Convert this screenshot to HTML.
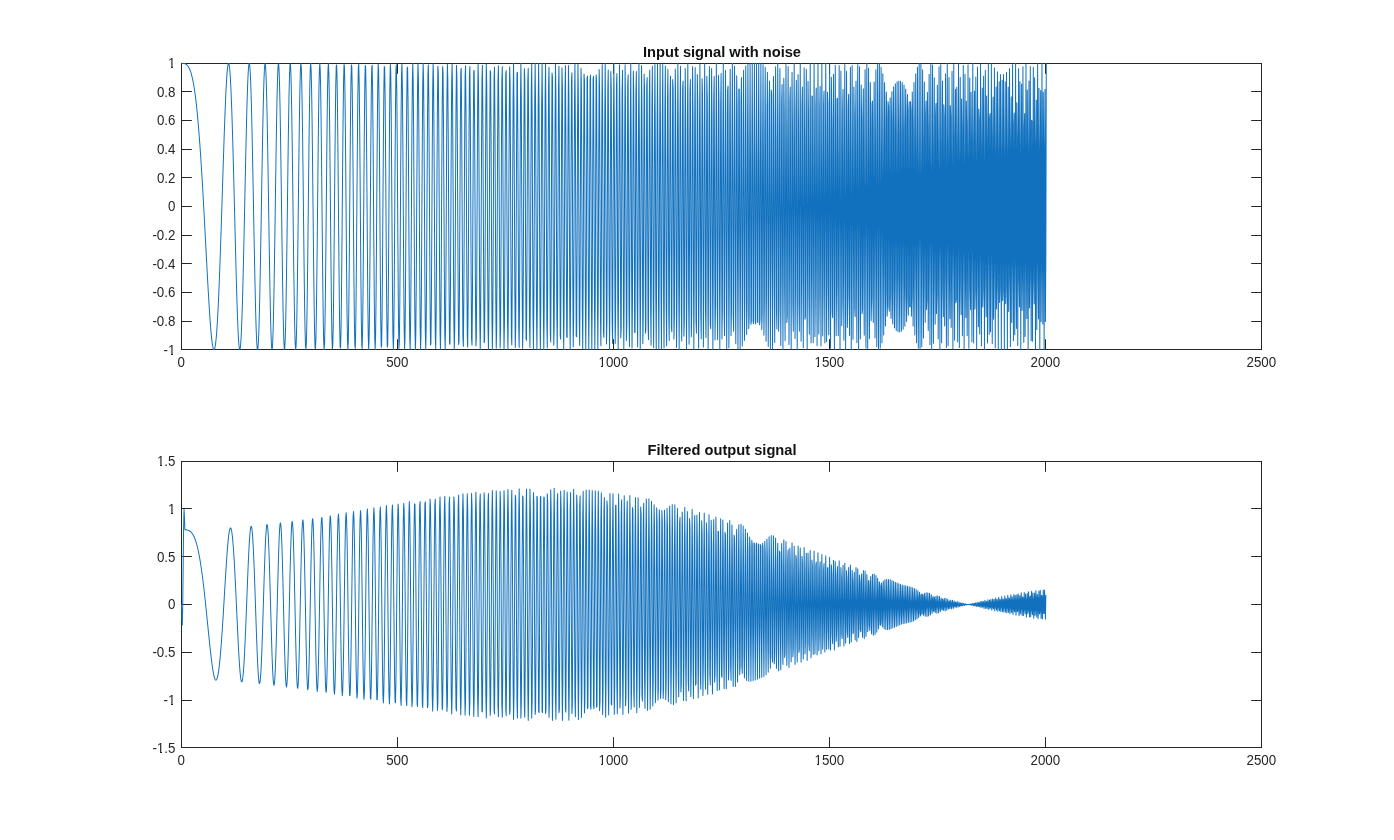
<!DOCTYPE html>
<html><head><meta charset="utf-8"><title>Figure</title>
<style>html,body{margin:0;padding:0;background:#fff;width:1394px;height:840px;overflow:hidden;font-family:"Liberation Sans",sans-serif}</style>
</head><body>
<svg width="1394" height="840" viewBox="0 0 1394 840" style="position:absolute;left:0;top:0;will-change:transform">
<rect x="0" y="0" width="1394" height="840" fill="#fff"/>
<g fill="#262626" shape-rendering="crispEdges">
<rect x="181" y="63" width="1081" height="1"/>
<rect x="181" y="349" width="1081" height="1"/>
<rect x="181" y="63" width="1" height="287"/>
<rect x="1261" y="63" width="1" height="287"/>
<rect x="397" y="340" width="1" height="10"/>
<rect x="397" y="63" width="1" height="10"/>
<rect x="613" y="340" width="1" height="10"/>
<rect x="613" y="63" width="1" height="10"/>
<rect x="829" y="340" width="1" height="10"/>
<rect x="829" y="63" width="1" height="10"/>
<rect x="1045" y="340" width="1" height="10"/>
<rect x="1045" y="63" width="1" height="10"/>
<rect x="181" y="321" width="10" height="1"/>
<rect x="1252" y="321" width="10" height="1"/>
<rect x="181" y="292" width="10" height="1"/>
<rect x="1252" y="292" width="10" height="1"/>
<rect x="181" y="263" width="10" height="1"/>
<rect x="1252" y="263" width="10" height="1"/>
<rect x="181" y="235" width="10" height="1"/>
<rect x="1252" y="235" width="10" height="1"/>
<rect x="181" y="206" width="10" height="1"/>
<rect x="1252" y="206" width="10" height="1"/>
<rect x="181" y="177" width="10" height="1"/>
<rect x="1252" y="177" width="10" height="1"/>
<rect x="181" y="149" width="10" height="1"/>
<rect x="1252" y="149" width="10" height="1"/>
<rect x="181" y="120" width="10" height="1"/>
<rect x="1252" y="120" width="10" height="1"/>
<rect x="181" y="91" width="10" height="1"/>
<rect x="1252" y="91" width="10" height="1"/>
</g>
<g fill="#262626" fill-opacity="0.8" shape-rendering="crispEdges"><rect x="397" y="339" width="1" height="1"/><rect x="397" y="73" width="1" height="1"/><rect x="613" y="339" width="1" height="1"/><rect x="613" y="73" width="1" height="1"/><rect x="829" y="339" width="1" height="1"/><rect x="829" y="73" width="1" height="1"/><rect x="1045" y="339" width="1" height="1"/><rect x="1045" y="73" width="1" height="1"/><rect x="191" y="321" width="1" height="1"/><rect x="1251" y="321" width="1" height="1"/><rect x="191" y="292" width="1" height="1"/><rect x="1251" y="292" width="1" height="1"/><rect x="191" y="263" width="1" height="1"/><rect x="1251" y="263" width="1" height="1"/><rect x="191" y="235" width="1" height="1"/><rect x="1251" y="235" width="1" height="1"/><rect x="191" y="206" width="1" height="1"/><rect x="1251" y="206" width="1" height="1"/><rect x="191" y="177" width="1" height="1"/><rect x="1251" y="177" width="1" height="1"/><rect x="191" y="149" width="1" height="1"/><rect x="1251" y="149" width="1" height="1"/><rect x="191" y="120" width="1" height="1"/><rect x="1251" y="120" width="1" height="1"/><rect x="191" y="91" width="1" height="1"/><rect x="1251" y="91" width="1" height="1"/></g>
<clipPath id="c1"><rect x="181" y="62.8" width="1081" height="287.4"/></clipPath>
<path d="M181.43,63.20 L181.86,63.20 L182.30,63.21 L182.73,63.24 L183.16,63.28 L183.59,63.33 L184.03,63.41 L184.46,63.52 L184.89,63.66 L185.32,63.84 L185.76,64.07 L186.19,64.34 L186.62,64.67 L187.05,65.06 L187.49,65.52 L187.92,66.06 L188.35,66.69 L188.78,67.41 L189.22,68.23 L189.65,69.16 L190.08,70.21 L190.51,71.39 L190.95,72.71 L191.38,74.17 L191.81,75.78 L192.24,77.57 L192.68,79.52 L193.11,81.66 L193.54,83.99 L193.97,86.52 L194.41,89.26 L194.84,92.22 L195.27,95.40 L195.70,98.82 L196.14,102.47 L196.57,106.37 L197.00,110.52 L197.43,114.93 L197.86,119.60 L198.30,124.53 L198.73,129.72 L199.16,135.17 L199.59,140.88 L200.03,146.85 L200.46,153.08 L200.89,159.55 L201.32,166.26 L201.76,173.20 L202.19,180.36 L202.62,187.71 L203.05,195.26 L203.49,202.97 L203.92,210.82 L204.35,218.80 L204.78,226.87 L205.22,235.01 L205.65,243.18 L206.08,251.36 L206.51,259.50 L206.95,267.58 L207.38,275.54 L207.81,283.34 L208.24,290.95 L208.68,298.31 L209.11,305.38 L209.54,312.11 L209.97,318.45 L210.41,324.35 L210.84,329.75 L211.27,334.62 L211.70,338.89 L212.13,342.53 L212.57,345.48 L213.00,347.69 L213.43,349.14 L213.86,349.77 L214.30,349.56 L214.73,348.47 L215.16,346.49 L215.59,343.58 L216.03,339.74 L216.46,334.96 L216.89,329.24 L217.32,322.60 L217.76,315.06 L218.19,306.63 L218.62,297.36 L219.05,287.29 L219.49,276.48 L219.92,265.00 L220.35,252.92 L220.78,240.32 L221.22,227.31 L221.65,213.99 L222.08,200.47 L222.51,186.87 L222.95,173.31 L223.38,159.93 L223.81,146.87 L224.24,134.27 L224.68,122.27 L225.11,111.01 L225.54,100.63 L225.97,91.27 L226.41,83.06 L226.84,76.13 L227.27,70.58 L227.70,66.52 L228.13,64.04 L228.57,63.20 L229.00,64.07 L229.43,66.67 L229.86,71.01 L230.30,77.10 L230.73,84.88 L231.16,94.31 L231.59,105.30 L232.03,117.73 L232.46,131.47 L232.89,146.36 L233.32,162.22 L233.76,178.83 L234.19,195.98 L234.62,213.41 L235.05,230.87 L235.49,248.10 L235.92,264.81 L236.35,280.74 L236.78,295.60 L237.22,309.14 L237.65,321.09 L238.08,331.23 L238.51,339.34 L238.95,345.22 L239.38,348.75 L239.81,349.79 L240.24,348.28 L240.68,344.19 L241.11,337.54 L241.54,328.41 L241.97,316.91 L242.41,303.23 L242.84,287.57 L243.27,270.21 L243.70,251.47 L244.13,231.69 L244.57,211.27 L245.00,190.62 L245.43,170.17 L245.86,150.35 L246.30,131.63 L246.73,114.41 L247.16,99.13 L247.59,86.15 L248.03,75.82 L248.46,68.43 L248.89,64.20 L249.32,63.29 L249.76,65.79 L250.19,71.69 L250.62,80.93 L251.05,93.31 L251.49,108.60 L251.92,126.46 L252.35,146.47 L252.78,168.14 L253.22,190.95 L253.65,214.31 L254.08,237.58 L254.51,260.15 L254.95,281.37 L255.38,300.64 L255.81,317.37 L256.24,331.05 L256.68,341.24 L257.11,347.57 L257.54,349.80 L257.97,347.79 L258.40,341.54 L258.84,331.16 L259.27,316.91 L259.70,299.17 L260.13,278.44 L260.57,255.32 L261.00,230.52 L261.43,204.81 L261.86,179.03 L262.30,154.02 L262.73,130.63 L263.16,109.68 L263.59,91.91 L264.03,77.98 L264.46,68.45 L264.89,63.70 L265.32,63.99 L265.76,69.37 L266.19,79.73 L266.62,94.76 L267.05,113.98 L267.49,136.74 L267.92,162.22 L268.35,189.50 L268.78,217.56 L269.22,245.33 L269.65,271.72 L270.08,295.66 L270.51,316.16 L270.95,332.37 L271.38,343.54 L271.81,349.17 L272.24,348.93 L272.68,342.77 L273.11,330.84 L273.54,313.59 L273.97,291.67 L274.40,265.98 L274.84,237.58 L275.27,207.69 L275.70,177.62 L276.13,148.70 L276.57,122.27 L277.00,99.56 L277.43,81.67 L277.86,69.49 L278.30,63.66 L278.73,64.55 L279.16,72.20 L279.59,86.32 L280.03,106.32 L280.46,131.30 L280.89,160.08 L281.32,191.29 L281.76,223.39 L282.19,254.77 L282.62,283.82 L283.05,309.02 L283.49,329.01 L283.92,342.70 L284.35,349.27 L284.78,348.30 L285.22,339.74 L285.65,323.96 L286.08,301.74 L286.51,274.21 L286.95,242.83 L287.38,209.31 L287.81,175.50 L288.24,143.32 L288.68,114.60 L289.11,91.06 L289.54,74.11 L289.97,64.82 L290.40,63.82 L290.84,71.27 L291.27,86.83 L291.70,109.64 L292.13,138.41 L292.57,171.45 L293.00,206.77 L293.43,242.20 L293.86,275.54 L294.30,304.64 L294.73,327.64 L295.16,342.97 L295.59,349.58 L296.03,346.94 L296.46,335.11 L296.89,314.78 L297.32,287.20 L297.76,254.13 L298.19,217.74 L298.62,180.47 L299.05,144.83 L299.49,113.31 L299.92,88.13 L300.35,71.11 L300.78,63.53 L301.22,66.03 L301.65,78.53 L302.08,100.25 L302.51,129.72 L302.95,164.86 L303.38,203.17 L303.81,241.85 L304.24,278.05 L304.67,309.02 L305.11,332.38 L305.54,346.28 L305.97,349.58 L306.40,341.91 L306.84,323.74 L307.27,296.40 L307.70,261.92 L308.13,222.96 L308.57,182.57 L309.00,143.96 L309.43,110.26 L309.86,84.23 L310.30,68.09 L310.73,63.25 L311.16,70.21 L311.59,88.53 L312.03,116.76 L312.46,152.64 L312.89,193.19 L313.32,235.01 L313.76,274.51 L314.19,308.26 L314.62,333.27 L315.05,347.27 L315.49,348.93 L315.92,337.99 L316.35,315.29 L316.78,282.77 L317.22,243.27 L317.65,200.31 L318.08,157.79 L318.51,119.62 L318.95,89.36 L319.38,69.92 L319.81,63.20 L320.24,69.96 L320.67,89.67 L321.11,120.59 L321.54,159.83 L321.97,203.69 L322.40,247.95 L322.84,288.29 L323.27,320.72 L323.70,341.95 L324.13,349.78 L324.57,343.31 L325.00,323.06 L325.43,290.97 L325.86,250.18 L326.30,204.81 L326.73,159.49 L327.16,118.90 L327.59,87.33 L328.03,68.14 L328.46,63.48 L328.89,73.96 L329.32,98.59 L329.76,134.86 L330.19,178.94 L330.62,226.13 L331.05,271.32 L331.49,309.52 L331.92,336.47 L332.35,349.08 L332.78,345.84 L333.22,326.97 L333.65,294.47 L334.08,251.92 L334.51,204.07 L334.95,156.37 L335.38,114.33 L335.81,82.85 L336.24,65.69 L336.67,64.97 L337.11,80.93 L337.54,111.78 L337.97,154.00 L338.40,202.61 L338.84,251.81 L339.27,295.66 L339.70,328.78 L340.13,347.03 L340.57,348.06 L341.00,331.61 L341.43,299.57 L341.86,255.82 L342.30,205.78 L342.73,155.70 L343.16,111.94 L343.59,80.12 L344.03,64.42 L344.46,66.99 L344.89,87.63 L345.32,123.79 L345.76,170.86 L346.19,222.74 L346.62,272.60 L347.05,313.80 L347.49,340.77 L347.92,349.79 L348.35,339.50 L348.78,311.16 L349.22,268.49 L349.65,217.23 L350.08,164.36 L350.51,117.20 L350.94,82.34 L351.38,64.74 L351.81,66.99 L352.24,88.94 L352.67,127.60 L353.11,177.59 L353.54,231.85 L353.97,282.58 L354.40,322.43 L354.84,345.54 L355.27,348.40 L355.70,330.45 L356.13,294.19 L356.57,244.86 L357.00,189.70 L357.43,136.93 L357.86,94.50 L358.30,68.87 L358.73,64.07 L359.16,80.96 L359.59,117.11 L360.03,167.10 L360.46,223.30 L360.89,277.01 L361.32,319.84 L361.76,345.00 L362.19,348.40 L362.62,329.35 L363.05,290.73 L363.49,238.57 L363.92,181.15 L364.35,127.69 L364.78,86.88 L365.22,65.43 L365.65,66.99 L366.08,91.46 L366.51,134.95 L366.94,190.39 L367.38,248.64 L367.81,299.96 L368.24,335.70 L368.67,349.72 L369.11,339.50 L369.54,306.63 L369.97,256.56 L370.40,197.79 L370.84,140.40 L371.27,94.34 L371.70,67.70 L372.13,65.27 L372.57,87.63 L373.00,130.99 L373.43,187.83 L373.86,248.10 L374.30,301.06 L374.73,337.17 L375.16,349.80 L375.59,336.51 L376.03,299.57 L376.46,245.55 L376.89,184.26 L377.32,126.94 L377.76,84.22 L378.19,64.13 L378.62,70.55 L379.05,102.46 L379.49,154.00 L379.92,215.57 L380.35,275.54 L380.78,322.47 L381.22,347.31 L381.65,345.15 L382.08,316.22 L382.51,265.98 L382.94,204.07 L383.38,142.51 L383.81,93.38 L384.24,66.44 L384.67,67.16 L385.11,95.56 L385.54,146.14 L385.97,208.91 L386.40,271.32 L386.84,320.76 L387.27,347.13 L387.70,344.92 L388.13,314.41 L388.57,261.69 L389.00,197.50 L389.43,135.05 L389.86,87.33 L390.30,64.37 L390.73,71.13 L391.16,106.37 L391.59,162.82 L392.03,228.63 L392.46,289.85 L392.89,333.39 L393.32,349.78 L393.76,335.36 L394.19,293.04 L394.62,231.87 L395.05,165.05 L395.49,107.18 L395.92,71.01 L396.35,64.65 L396.78,89.67 L397.22,140.70 L397.65,206.50 L398.08,272.42 L398.51,323.64 L398.94,348.52 L399.38,341.27 L399.81,303.36 L400.24,243.27 L400.67,174.65 L401.11,113.23 L401.54,73.24 L401.97,64.07 L402.40,88.02 L402.84,139.68 L403.27,207.11 L403.70,274.51 L404.13,325.96 L404.57,349.18 L405.00,338.48 L405.43,296.24 L405.86,232.40 L406.30,162.22 L406.73,102.61 L407.16,68.09 L407.59,67.20 L408.03,100.33 L408.46,159.55 L408.89,230.43 L409.32,295.52 L409.76,338.65 L410.19,348.98 L410.62,323.74 L411.05,269.08 L411.49,198.58 L411.92,129.96 L412.35,80.62 L412.78,63.21 L413.21,82.34 L413.65,133.30 L414.08,203.17 L414.51,274.01 L414.94,327.49 L415.38,349.62 L415.81,334.47 L416.24,285.79 L416.67,216.22 L417.11,143.96 L417.54,88.13 L417.97,63.63 L418.40,77.15 L418.84,125.27 L419.27,195.26 L419.70,268.39 L420.13,324.92 L420.57,349.44 L421.00,335.11 L421.43,285.64 L421.86,214.42 L422.30,140.90 L422.73,85.36 L423.16,63.27 L423.59,80.93 L424.03,133.61 L424.46,206.77 L424.89,279.97 L425.32,332.59 L425.76,349.67 L426.19,326.17 L426.62,268.59 L427.05,193.19 L427.49,121.49 L427.92,74.11 L428.35,64.84 L428.78,96.55 L429.21,160.23 L429.65,237.50 L430.08,305.82 L430.51,345.12 L430.94,343.68 L431.38,301.74 L431.81,231.51 L432.24,153.75 L432.67,91.60 L433.11,63.73 L433.54,78.69 L433.97,132.16 L434.40,208.19 L434.84,283.82 L435.27,336.04 L435.70,348.80 L436.13,318.01 L436.57,252.92 L437.00,173.42 L437.43,104.03 L437.86,66.33 L438.30,72.20 L438.73,120.01 L439.16,194.99 L439.59,273.69 L440.03,331.33 L440.46,349.57 L440.89,322.43 L441.32,258.35 L441.76,177.62 L442.19,106.02 L442.62,66.61 L443.05,72.25 L443.49,121.33 L443.92,198.11 L444.35,277.73 L444.78,334.21 L445.21,348.93 L445.65,316.87 L446.08,248.38 L446.51,165.94 L446.94,96.84 L447.38,64.13 L447.81,78.90 L448.24,136.42 L448.67,217.56 L449.11,295.09 L449.54,342.79 L449.97,344.34 L450.40,299.02 L450.84,222.07 L451.27,139.68 L451.70,80.12 L452.13,63.99 L452.57,97.05 L453.00,168.08 L453.43,252.56 L453.86,321.09 L454.30,349.66 L454.73,328.07 L455.16,263.68 L455.59,179.03 L456.03,103.98 L456.46,65.23 L456.89,76.71 L457.32,134.56 L457.76,218.26 L458.19,297.84 L458.62,344.62 L459.05,341.54 L459.48,289.50 L459.92,207.22 L460.35,124.56 L460.78,71.76 L461.21,68.32 L461.65,115.71 L462.08,196.67 L462.51,281.37 L462.94,338.40 L463.38,346.39 L463.81,302.16 L464.24,222.05 L464.67,135.99 L465.11,76.38 L465.54,65.85 L465.97,108.60 L466.40,188.61 L466.84,275.54 L467.27,336.19 L467.70,347.21 L468.13,304.15 L468.57,223.39 L469.00,135.99 L469.43,75.82 L469.86,66.40 L470.30,111.60 L470.73,193.98 L471.16,281.37 L471.59,339.43 L472.03,345.12 L472.46,295.97 L472.89,211.27 L473.32,124.56 L473.76,70.44 L474.19,70.69 L474.62,125.43 L475.05,212.87 L475.48,297.84 L475.92,345.96 L476.35,337.54 L476.78,275.79 L477.21,185.69 L477.65,103.98 L478.08,64.25 L478.51,83.01 L478.94,152.74 L479.38,244.81 L479.81,321.09 L480.24,349.79 L480.67,318.73 L481.11,240.67 L481.54,148.19 L481.97,80.12 L482.40,65.29 L482.84,110.17 L483.27,195.98 L483.70,286.36 L484.13,342.79 L484.57,341.00 L485.00,281.53 L485.43,189.72 L485.86,105.04 L486.30,64.13 L486.73,84.88 L487.16,158.53 L487.59,253.17 L488.03,327.53 L488.46,348.93 L488.89,307.78 L489.32,221.96 L489.76,129.20 L490.19,70.58 L490.62,72.25 L491.05,133.71 L491.48,227.74 L491.92,312.37 L492.35,349.57 L492.78,322.43 L493.21,242.94 L493.65,146.87 L494.08,77.74 L494.51,67.10 L494.94,120.01 L495.38,212.53 L495.81,302.39 L496.24,348.28 L496.67,328.88 L497.11,252.92 L497.54,155.36 L497.97,81.45 L498.40,65.68 L498.84,115.64 L499.27,208.19 L499.70,300.04 L500.13,347.99 L500.57,329.24 L501.00,252.43 L501.43,153.75 L501.86,80.04 L502.30,66.51 L502.73,119.87 L503.16,214.78 L503.59,305.82 L504.03,349.14 L504.46,323.65 L504.89,241.44 L505.32,142.19 L505.75,74.11 L506.19,70.52 L506.62,133.40 L507.05,232.18 L507.48,318.45 L507.92,349.67 L508.35,310.22 L508.78,219.38 L509.21,122.05 L509.65,66.64 L510.08,80.93 L510.51,158.02 L510.94,259.50 L511.38,334.46 L511.81,345.03 L512.24,285.64 L512.67,186.13 L513.11,96.85 L513.54,63.27 L513.97,102.70 L514.40,195.26 L514.84,293.67 L515.27,347.39 L515.70,328.60 L516.13,246.74 L516.57,143.96 L517.00,73.53 L517.43,72.19 L517.86,140.88 L518.30,243.94 L518.73,327.49 L519.16,347.58 L519.59,293.40 L520.03,193.31 L520.46,100.09 L520.89,63.21 L521.32,102.47 L521.75,197.21 L522.19,297.01 L522.62,348.44 L523.05,323.74 L523.48,235.93 L523.92,132.16 L524.35,68.48 L524.78,79.52 L525.21,159.55 L525.65,265.22 L526.08,338.95 L526.51,340.29 L526.94,268.27 L527.38,162.22 L527.81,80.46 L528.24,68.23 L528.67,132.53 L529.11,237.94 L529.54,325.96 L529.97,347.48 L530.40,290.24 L530.84,186.04 L531.27,93.23 L531.70,64.07 L532.13,115.21 L532.57,218.01 L533.00,314.39 L533.43,349.59 L533.86,303.36 L534.30,201.82 L534.73,102.86 L535.16,63.21 L535.59,105.86 L536.03,206.50 L536.46,307.24 L536.89,349.79 L537.32,309.30 L537.75,209.02 L538.19,107.18 L538.62,63.23 L539.05,103.08 L539.48,203.62 L539.92,305.95 L540.35,349.78 L540.78,309.05 L541.21,207.58 L541.65,105.38 L542.08,63.20 L542.51,106.37 L542.94,209.38 L543.38,310.76 L543.81,349.69 L544.24,302.56 L544.67,197.50 L545.11,97.78 L545.54,63.78 L545.97,116.32 L546.40,223.75 L546.84,320.76 L547.27,348.08 L547.70,288.77 L548.13,178.94 L548.57,85.96 L549.00,67.16 L549.43,134.39 L549.86,246.31 L550.30,333.64 L550.73,342.02 L551.16,265.98 L551.59,152.74 L552.02,73.04 L552.46,76.95 L552.89,162.28 L553.32,275.54 L553.75,345.31 L554.19,327.35 L554.62,232.75 L555.05,121.40 L555.48,64.13 L555.92,97.65 L556.35,200.81 L556.78,307.70 L557.21,349.70 L557.65,299.57 L558.08,189.37 L558.51,90.15 L558.94,66.21 L559.38,133.32 L559.81,248.10 L560.24,335.85 L560.67,339.17 L561.11,255.63 L561.54,139.78 L561.97,67.70 L562.40,87.01 L562.84,185.24 L563.27,297.62 L563.70,349.67 L564.13,306.63 L564.57,196.87 L565.00,93.45 L565.43,65.54 L565.86,132.07 L566.30,248.64 L566.73,336.95 L567.16,337.36 L567.59,249.35 L568.02,132.24 L568.46,65.43 L568.89,94.50 L569.32,199.91 L569.75,309.91 L570.19,349.24 L570.62,290.73 L571.05,174.30 L571.48,79.94 L571.92,72.83 L572.35,158.13 L572.78,277.01 L573.21,347.04 L573.65,319.36 L574.08,212.98 L574.51,101.99 L574.94,64.07 L575.38,126.01 L575.81,244.57 L576.24,336.42 L576.67,336.66 L577.11,244.86 L577.54,125.80 L577.97,63.95 L578.40,103.47 L578.84,216.46 L579.27,322.43 L579.70,345.50 L580.13,268.90 L580.57,147.39 L581.00,68.35 L581.43,88.94 L581.86,194.54 L582.30,308.89 L582.73,349.00 L583.16,285.49 L583.59,164.36 L584.02,73.91 L584.46,80.41 L584.89,179.36 L585.32,298.33 L585.75,349.79 L586.19,295.60 L586.62,175.53 L587.05,78.29 L587.48,76.11 L587.92,170.86 L588.35,292.23 L588.78,349.71 L589.21,300.13 L589.65,180.36 L590.08,80.12 L590.51,74.88 L590.94,168.84 L591.38,291.31 L591.81,349.70 L592.24,299.57 L592.67,178.70 L593.11,78.90 L593.54,76.33 L593.97,173.22 L594.40,295.66 L594.84,349.80 L595.27,293.85 L595.70,170.60 L596.13,74.96 L596.57,80.93 L597.00,184.15 L597.43,304.79 L597.86,349.11 L598.29,282.37 L598.73,156.37 L599.16,69.48 L599.59,89.87 L600.02,201.82 L600.46,317.53 L600.89,345.84 L601.32,264.17 L601.75,136.83 L602.19,64.61 L602.62,104.98 L603.05,226.13 L603.48,331.73 L603.92,337.41 L604.35,238.37 L604.78,113.73 L605.21,63.48 L605.65,128.26 L606.08,256.14 L606.51,344.03 L606.94,320.72 L607.38,204.81 L607.81,90.20 L608.24,70.12 L608.67,161.19 L609.11,289.32 L609.54,349.78 L609.97,292.85 L610.40,164.97 L610.84,71.17 L611.27,88.85 L611.70,203.69 L612.13,320.93 L612.57,343.42 L613.00,252.24 L613.43,122.95 L613.86,63.20 L614.29,123.06 L614.73,252.75 L615.16,343.77 L615.59,319.62 L616.02,200.31 L616.46,86.14 L616.89,73.49 L617.32,173.31 L617.75,301.32 L618.19,348.93 L618.62,275.48 L619.05,143.21 L619.48,64.87 L619.92,107.55 L620.35,235.01 L620.78,338.09 L621.21,328.13 L621.65,213.43 L622.08,92.68 L622.51,70.21 L622.94,165.72 L623.38,296.66 L623.81,349.35 L624.24,277.73 L624.67,143.96 L625.11,64.73 L625.54,109.51 L625.97,239.34 L626.40,340.41 L626.84,323.74 L627.27,203.73 L627.70,86.09 L628.13,74.87 L628.57,180.27 L629.00,309.02 L629.43,346.69 L629.86,259.52 L630.29,124.99 L630.73,63.23 L631.16,129.72 L631.59,265.12 L632.02,347.94 L632.46,303.49 L632.89,171.56 L633.32,71.11 L633.75,93.11 L634.19,217.90 L634.62,332.42 L635.05,332.47 L635.48,217.74 L635.92,92.68 L636.35,71.61 L636.78,174.08 L637.21,306.35 L637.65,346.94 L638.08,258.25 L638.51,121.78 L638.94,63.50 L639.38,137.52 L639.81,275.54 L640.24,349.52 L640.67,290.51 L641.11,153.18 L641.54,65.54 L641.97,109.64 L642.40,244.49 L642.84,343.77 L643.27,314.11 L643.70,183.13 L644.13,74.11 L644.56,90.08 L645.00,216.22 L645.43,333.22 L645.86,329.98 L646.29,209.31 L646.73,85.90 L647.16,77.49 L647.59,192.39 L648.02,320.86 L648.46,339.74 L648.89,230.63 L649.32,98.24 L649.75,70.12 L650.19,173.66 L650.62,309.02 L651.05,345.14 L651.48,246.76 L651.92,109.19 L652.35,66.28 L652.78,160.08 L653.21,299.27 L653.65,347.77 L654.08,257.85 L654.51,117.47 L654.94,64.55 L655.38,151.41 L655.81,292.67 L656.24,348.85 L656.67,264.17 L657.11,122.27 L657.54,63.93 L657.97,147.37 L658.40,289.76 L658.84,349.15 L659.27,265.98 L659.70,123.22 L660.13,63.89 L660.56,147.78 L661.00,290.78 L661.43,348.93 L661.86,263.35 L662.29,120.24 L662.73,64.41 L663.16,152.66 L663.59,295.66 L664.02,348.01 L664.46,256.16 L664.89,113.57 L665.32,65.92 L665.75,162.22 L666.19,303.99 L666.62,345.67 L667.05,244.16 L667.48,103.78 L667.92,69.37 L668.35,176.74 L668.78,314.98 L669.21,340.77 L669.65,227.07 L670.08,91.91 L670.51,76.11 L670.94,196.42 L671.38,327.34 L671.81,331.77 L672.24,204.81 L672.67,79.56 L673.11,87.82 L673.54,221.15 L673.97,339.09 L674.40,316.91 L674.84,177.82 L675.27,69.07 L675.70,106.24 L676.13,250.10 L676.56,347.57 L677.00,294.54 L677.43,147.39 L677.86,63.44 L678.29,132.84 L678.73,281.37 L679.16,349.45 L679.59,263.58 L680.02,116.08 L680.46,66.21 L680.89,168.14 L681.32,311.70 L681.75,341.12 L682.19,224.19 L682.62,87.94 L683.05,80.93 L683.48,211.07 L683.92,336.28 L684.35,319.36 L684.78,178.59 L685.21,68.43 L685.65,110.19 L686.08,258.14 L686.51,349.15 L686.94,282.47 L687.38,131.63 L687.81,63.76 L688.24,154.42 L688.67,303.06 L689.11,344.19 L689.54,231.69 L689.97,90.99 L690.40,79.51 L690.83,210.37 L691.27,336.95 L691.70,316.91 L692.13,172.54 L692.56,66.40 L693.00,118.44 L693.43,270.11 L693.86,349.79 L694.29,266.94 L694.73,115.38 L695.16,67.44 L695.59,177.95 L696.02,321.09 L696.46,333.32 L696.89,200.38 L697.32,74.39 L697.75,100.03 L698.19,248.10 L698.62,348.33 L699.05,285.04 L699.48,131.01 L699.92,64.23 L700.35,162.22 L700.78,311.62 L701.21,338.96 L701.65,212.19 L702.08,78.74 L702.51,94.31 L702.94,241.00 L703.38,347.37 L703.81,288.68 L704.24,133.50 L704.67,64.07 L705.11,162.28 L705.54,312.67 L705.97,337.77 L706.40,207.67 L706.83,76.13 L707.27,99.13 L707.70,249.65 L708.13,348.91 L708.56,278.61 L709.00,122.27 L709.43,66.47 L709.86,178.15 L710.29,323.83 L710.73,328.82 L711.16,186.87 L711.59,68.47 L712.02,116.32 L712.46,273.00 L712.89,349.39 L713.32,252.92 L713.75,100.16 L714.19,76.38 L714.62,210.71 L715.05,339.97 L715.48,306.63 L715.92,151.08 L716.35,63.20 L716.78,150.66 L717.21,306.60 L717.65,339.74 L718.08,209.13 L718.51,75.24 L718.94,103.08 L719.38,258.58 L719.81,349.77 L720.24,263.66 L720.67,106.66 L721.11,73.53 L721.54,205.67 L721.97,338.89 L722.40,307.14 L722.83,149.75 L723.27,63.24 L723.70,156.02 L724.13,312.11 L724.56,335.70 L725.00,196.90 L725.43,70.13 L725.86,115.21 L726.29,275.54 L726.73,348.66 L727.16,241.88 L727.59,90.21 L728.02,86.09 L728.46,235.01 L728.89,347.70 L729.32,280.47 L729.75,118.81 L730.19,69.16 L730.62,195.26 L731.05,335.80 L731.48,310.47 L731.92,151.52 L732.35,63.26 L732.78,159.55 L733.21,316.45 L733.65,331.34 L734.08,184.71 L734.51,66.26 L734.94,129.72 L735.38,292.95 L735.81,343.78 L736.24,215.79 L736.67,75.64 L737.10,106.37 L737.54,268.08 L737.97,349.19 L738.40,243.18 L738.83,88.96 L739.27,89.26 L739.70,243.94 L740.13,349.31 L740.56,266.15 L741.00,104.10 L741.43,77.57 L741.86,221.96 L742.29,345.88 L742.73,284.57 L743.16,119.33 L743.59,70.21 L744.02,202.97 L744.46,340.49 L744.89,298.76 L745.32,133.40 L745.75,66.06 L746.19,187.38 L746.62,334.46 L747.05,309.22 L747.48,145.42 L747.92,64.07 L748.35,175.31 L748.78,328.82 L749.21,316.53 L749.65,154.84 L750.08,63.33 L750.51,166.69 L750.94,324.35 L751.38,321.20 L751.81,161.30 L752.24,63.20 L752.67,161.43 L753.10,321.53 L753.54,323.65 L753.97,164.62 L754.40,63.23 L754.83,159.40 L755.27,320.65 L755.70,324.10 L756.13,164.73 L756.56,63.22 L757.00,160.57 L757.43,321.79 L757.86,322.60 L758.29,161.62 L758.73,63.21 L759.16,164.97 L759.59,324.86 L760.02,319.01 L760.46,155.36 L760.89,63.48 L761.32,172.68 L761.75,329.52 L762.19,312.99 L762.62,146.14 L763.05,64.55 L763.48,183.82 L763.92,335.26 L764.35,304.07 L764.78,134.27 L765.21,67.16 L765.65,198.47 L766.08,341.27 L766.51,291.69 L766.94,120.32 L767.38,72.25 L767.81,216.58 L768.24,346.48 L768.67,275.30 L769.10,105.12 L769.54,80.93 L769.97,237.83 L770.40,349.53 L770.83,254.47 L771.27,89.94 L771.70,94.31 L772.13,261.50 L772.56,348.81 L773.00,229.09 L773.43,76.43 L773.86,113.43 L774.29,286.36 L774.73,342.56 L775.16,199.59 L775.59,66.71 L776.02,138.95 L776.46,310.47 L776.89,329.07 L777.32,167.13 L777.75,63.21 L778.19,170.86 L778.62,331.23 L779.05,307.00 L779.48,133.81 L779.92,68.45 L780.35,208.19 L780.78,345.45 L781.21,275.79 L781.65,102.78 L782.08,84.59 L782.51,248.64 L782.94,349.66 L783.37,236.18 L783.81,78.14 L784.24,112.89 L784.67,288.44 L785.10,340.64 L785.54,190.62 L785.97,64.53 L786.40,152.97 L786.83,322.43 L787.27,316.30 L787.70,143.62 L788.13,66.40 L788.56,202.18 L789.00,344.57 L789.43,276.56 L789.86,101.62 L790.29,86.88 L790.73,255.10 L791.16,348.93 L791.59,224.39 L792.02,72.36 L792.46,126.46 L792.89,303.74 L793.32,331.25 L793.75,166.35 L794.19,63.41 L794.62,181.69 L795.05,338.40 L795.48,290.73 L795.92,112.36 L796.35,80.20 L796.78,244.46 L797.21,349.65 L797.65,231.69 L798.08,74.39 L798.51,123.50 L798.94,302.48 L799.37,331.16 L799.81,164.36 L800.24,63.68 L800.67,187.47 L801.10,341.23 L801.54,282.75 L801.97,103.98 L802.40,87.08 L802.83,258.98 L803.27,347.85 L803.70,212.73 L804.13,67.70 L804.56,143.11 L805.00,319.34 L805.43,315.95 L805.86,138.10 L806.29,69.37 L806.73,219.72 L807.16,348.95 L807.59,250.10 L808.02,81.33 L808.46,113.43 L808.89,295.09 L809.32,334.26 L809.75,167.67 L810.19,63.66 L810.62,190.22 L811.05,343.12 L811.48,275.00 L811.92,95.91 L812.35,96.13 L812.78,275.54 L813.21,342.77 L813.65,188.27 L814.08,63.45 L814.51,171.91 L814.94,336.87 L815.37,288.75 L815.81,106.02 L816.24,87.88 L816.67,264.30 L817.10,345.84 L817.54,198.33 L817.97,64.24 L818.40,164.51 L818.83,334.06 L819.27,292.99 L819.70,108.93 L820.13,86.32 L820.56,262.83 L821.00,345.93 L821.43,197.50 L821.86,64.01 L822.29,167.65 L822.73,336.04 L823.16,288.38 L823.59,103.98 L824.02,90.94 L824.46,271.30 L824.89,343.12 L825.32,185.80 L825.75,63.22 L826.19,181.49 L826.62,341.87 L827.05,274.21 L827.48,92.34 L827.92,103.20 L828.35,288.68 L828.78,335.12 L829.21,163.68 L829.64,64.84 L830.08,206.50 L830.51,348.18 L830.94,248.81 L831.37,77.35 L831.81,126.10 L832.24,312.11 L832.67,317.66 L833.10,133.03 L833.54,74.21 L833.97,242.20 L834.40,348.93 L834.83,210.93 L835.27,65.29 L835.70,162.80 L836.13,335.66 L836.56,285.64 L837.00,98.89 L837.43,98.22 L837.86,285.02 L838.29,335.75 L838.73,162.22 L839.16,65.58 L839.59,213.97 L840.02,349.37 L840.46,235.82 L840.89,71.11 L841.32,142.81 L841.75,325.86 L842.19,300.04 L842.62,110.34 L843.05,89.26 L843.48,274.01 L843.92,340.13 L844.35,171.15 L844.78,64.41 L845.21,208.19 L845.64,349.00 L846.08,238.05 L846.51,71.28 L846.94,143.92 L847.37,327.49 L847.81,296.40 L848.24,105.62 L848.67,94.20 L849.10,282.67 L849.54,335.43 L849.97,158.21 L850.40,67.20 L850.83,225.17 L851.27,349.75 L851.70,217.74 L852.13,65.56 L852.56,166.35 L853.00,339.29 L853.43,273.40 L853.86,87.04 L854.29,115.99 L854.73,308.26 L855.16,316.74 L855.59,125.90 L856.02,80.93 L856.46,263.47 L856.89,342.70 L857.32,174.65 L857.75,64.47 L858.19,212.69 L858.62,349.65 L859.05,225.64 L859.48,66.69 L859.92,163.14 L860.35,338.89 L860.78,272.30 L861.21,85.12 L861.64,120.59 L862.08,313.81 L862.51,309.80 L862.94,115.71 L863.37,88.83 L863.81,278.90 L864.24,335.36 L864.67,153.75 L865.10,69.69 L865.54,238.90 L865.97,348.08 L866.40,194.63 L866.83,63.21 L867.27,198.13 L867.70,348.63 L868.13,234.41 L868.56,68.14 L869.00,160.08 L869.43,338.75 L869.86,270.11 L870.29,82.39 L870.73,127.22 L871.16,320.76 L871.59,299.77 L872.02,103.48 L872.46,101.00 L872.89,297.20 L873.32,322.43 L873.75,128.90 L874.19,81.94 L874.62,270.49 L875.05,337.94 L875.48,156.37 L875.92,69.86 L876.35,242.73 L876.78,346.77 L877.21,184.02 L877.64,64.07 L878.08,215.57 L878.51,349.78 L878.94,210.39 L879.37,63.56 L879.81,190.22 L880.24,348.06 L880.67,234.52 L881.10,67.20 L881.54,167.45 L881.97,342.79 L882.40,255.82 L882.83,73.83 L883.27,147.67 L883.70,335.07 L884.13,274.05 L884.56,82.38 L885.00,130.99 L885.43,325.92 L885.86,289.21 L886.29,91.91 L886.73,117.31 L887.16,316.22 L887.59,301.49 L888.02,101.61 L888.46,106.37 L888.89,306.68 L889.32,311.16 L889.75,110.86 L890.19,97.87 L890.62,297.84 L891.05,318.57 L891.48,119.17 L891.91,91.46 L892.35,290.15 L892.78,324.06 L893.21,126.18 L893.64,86.82 L894.08,283.89 L894.51,327.94 L894.94,131.63 L895.37,83.65 L895.81,279.29 L896.24,330.45 L896.67,135.34 L897.10,81.75 L897.54,276.48 L897.97,331.78 L898.40,137.23 L898.83,80.96 L899.27,275.54 L899.70,332.04 L900.13,137.23 L900.56,81.22 L901.00,276.48 L901.43,331.25 L901.86,135.34 L902.29,82.55 L902.73,279.29 L903.16,329.35 L903.59,131.63 L904.02,85.06 L904.46,283.89 L904.89,326.18 L905.32,126.18 L905.75,88.94 L906.19,290.15 L906.62,321.54 L907.05,119.17 L907.48,94.43 L907.91,297.84 L908.35,315.13 L908.78,110.86 L909.21,101.84 L909.64,306.68 L910.08,306.63 L910.51,101.61 L910.94,111.51 L911.37,316.22 L911.81,295.69 L912.24,91.91 L912.67,123.79 L913.10,325.92 L913.54,282.01 L913.97,82.38 L914.40,138.95 L914.83,335.07 L915.27,265.33 L915.70,73.83 L916.13,157.18 L916.56,342.79 L917.00,245.55 L917.43,67.20 L917.86,178.48 L918.29,348.06 L918.73,222.78 L919.16,63.56 L919.59,202.61 L920.02,349.78 L920.46,197.43 L920.89,64.07 L921.32,228.98 L921.75,346.77 L922.19,170.27 L922.62,69.86 L923.05,256.63 L923.48,337.94 L923.91,142.51 L924.35,81.94 L924.78,284.10 L925.21,322.43 L925.64,115.80 L926.08,101.00 L926.51,309.52 L926.94,299.77 L927.37,92.24 L927.81,127.22 L928.24,330.61 L928.67,270.11 L929.10,74.25 L929.54,160.08 L929.97,344.86 L930.40,234.41 L930.83,64.37 L931.27,198.13 L931.70,349.79 L932.13,194.63 L932.56,64.92 L933.00,238.90 L933.43,343.31 L933.86,153.75 L934.29,77.64 L934.73,278.90 L935.16,324.17 L935.59,115.71 L936.02,103.20 L936.46,313.81 L936.89,292.41 L937.32,85.12 L937.75,140.70 L938.18,338.89 L938.62,249.86 L939.05,66.69 L939.48,187.36 L939.91,349.65 L940.35,200.31 L940.78,64.47 L941.21,238.35 L941.64,342.70 L942.08,149.53 L942.51,80.93 L942.94,287.10 L943.37,316.74 L943.81,104.74 L944.24,115.99 L944.67,325.96 L945.10,273.40 L945.54,73.71 L945.97,166.35 L946.40,347.44 L946.83,217.74 L947.27,63.25 L947.70,225.17 L948.13,345.80 L948.56,158.21 L949.00,77.57 L949.43,282.67 L949.86,318.80 L950.29,105.62 L950.73,116.60 L951.16,327.49 L951.59,269.08 L952.02,71.28 L952.46,174.95 L952.89,349.00 L953.32,204.81 L953.75,64.41 L954.18,241.85 L954.62,340.13 L955.05,138.99 L955.48,89.26 L955.91,302.66 L956.35,300.04 L956.78,87.14 L957.21,142.81 L957.64,341.89 L958.08,235.82 L958.51,63.63 L958.94,213.97 L959.37,347.42 L959.81,162.22 L960.24,77.25 L960.67,285.02 L961.10,314.78 L961.54,98.89 L961.97,127.36 L962.40,335.66 L962.83,250.20 L963.27,65.29 L963.70,202.07 L964.13,348.93 L964.56,170.80 L965.00,74.21 L965.43,279.97 L965.86,317.66 L966.29,100.89 L966.73,126.10 L967.16,335.65 L967.59,248.81 L968.02,64.82 L968.46,206.50 L968.89,348.16 L969.32,163.68 L969.75,77.88 L970.18,288.68 L970.62,309.80 L971.05,92.34 L971.48,138.79 L971.91,341.87 L972.35,231.51 L972.78,63.22 L973.21,227.20 L973.64,343.12 L974.08,141.70 L974.51,90.94 L974.94,309.02 L975.37,288.38 L975.81,76.96 L976.24,167.65 L976.67,348.99 L977.10,197.50 L977.54,67.07 L977.97,262.83 L978.40,326.68 L978.83,108.93 L979.27,120.01 L979.70,334.06 L980.13,248.49 L980.56,64.24 L981.00,214.67 L981.43,345.84 L981.86,148.70 L982.29,87.88 L982.73,306.98 L983.16,288.75 L983.59,76.13 L984.02,171.91 L984.45,349.55 L984.89,188.27 L985.32,70.23 L985.75,275.54 L986.18,316.87 L986.62,95.91 L987.05,138.00 L987.48,343.12 L987.91,222.78 L988.35,63.66 L988.78,245.33 L989.21,334.26 L989.64,117.91 L990.08,113.43 L990.51,331.67 L990.94,250.10 L991.37,64.05 L991.81,219.72 L992.24,343.63 L992.67,138.10 L993.10,97.05 L993.54,319.34 L993.97,269.89 L994.40,67.70 L994.83,200.27 L995.27,347.85 L995.70,154.02 L996.13,87.08 L996.56,309.02 L997.00,282.75 L997.43,71.77 L997.86,187.47 L998.29,349.32 L998.73,164.36 L999.16,81.84 L999.59,302.48 L1000.02,289.50 L1000.45,74.39 L1000.89,181.31 L1001.32,349.65 L1001.75,168.54 L1002.18,80.20 L1002.62,300.64 L1003.05,290.73 L1003.48,74.60 L1003.91,181.69 L1004.35,349.59 L1004.78,166.35 L1005.21,81.75 L1005.64,303.74 L1006.08,286.54 L1006.51,72.36 L1006.94,188.61 L1007.37,348.93 L1007.81,157.90 L1008.24,86.88 L1008.67,311.38 L1009.10,276.56 L1009.54,68.43 L1009.97,202.18 L1010.40,346.60 L1010.83,143.62 L1011.27,96.70 L1011.70,322.43 L1012.13,260.03 L1012.56,64.53 L1013.00,222.38 L1013.43,340.64 L1013.86,124.56 L1014.29,112.89 L1014.73,334.86 L1015.16,236.18 L1015.59,63.34 L1016.02,248.64 L1016.45,328.41 L1016.89,102.78 L1017.32,137.21 L1017.75,345.45 L1018.18,204.81 L1018.62,68.45 L1019.05,279.19 L1019.48,307.00 L1019.91,81.77 L1020.35,170.86 L1020.78,349.79 L1021.21,167.13 L1021.64,83.93 L1022.08,310.47 L1022.51,274.05 L1022.94,66.71 L1023.37,213.41 L1023.81,342.56 L1024.24,126.64 L1024.67,113.43 L1025.10,336.57 L1025.54,229.09 L1025.97,64.19 L1026.40,261.50 L1026.83,318.69 L1027.27,89.94 L1027.70,158.53 L1028.13,349.53 L1028.56,175.17 L1029.00,80.93 L1029.43,307.88 L1029.86,275.30 L1030.29,66.52 L1030.72,216.58 L1031.16,340.75 L1031.59,120.32 L1032.02,121.31 L1032.45,341.27 L1032.89,214.53 L1033.32,67.16 L1033.75,278.73 L1034.18,304.07 L1034.62,77.74 L1035.05,183.82 L1035.48,348.45 L1035.91,146.14 L1036.35,100.01 L1036.78,329.52 L1037.21,240.32 L1037.64,63.48 L1038.08,257.64 L1038.51,319.01 L1038.94,88.14 L1039.37,164.97 L1039.81,349.79 L1040.24,161.62 L1040.67,90.40 L1041.10,321.79 L1041.54,252.43 L1041.97,63.22 L1042.40,248.27 L1042.83,324.10 L1043.27,92.35 L1043.70,159.40 L1044.13,349.77 L1044.56,164.62 L1045.00,89.35 L1045.43,321.53 L1045.86,251.57 L1046.29,63.20" fill="none" stroke="#1171be" stroke-width="1.001" stroke-linejoin="round" clip-path="url(#c1)"/>
<g font-family="'Liberation Sans', sans-serif" font-size="13.33" fill="#262626">
<text transform="translate(175.4 355) scale(1 1.05)" text-anchor="end">-1</text>
<text transform="translate(175.4 326) scale(1 1.05)" text-anchor="end">-0.8</text>
<text transform="translate(175.4 297) scale(1 1.05)" text-anchor="end">-0.6</text>
<text transform="translate(175.4 269) scale(1 1.05)" text-anchor="end">-0.4</text>
<text transform="translate(175.4 240) scale(1 1.05)" text-anchor="end">-0.2</text>
<text transform="translate(175.4 211) scale(1 1.05)" text-anchor="end">0</text>
<text transform="translate(175.4 183) scale(1 1.05)" text-anchor="end">0.2</text>
<text transform="translate(175.4 154) scale(1 1.05)" text-anchor="end">0.4</text>
<text transform="translate(175.4 125) scale(1 1.05)" text-anchor="end">0.6</text>
<text transform="translate(175.4 97) scale(1 1.05)" text-anchor="end">0.8</text>
<text transform="translate(175.4 68) scale(1 1.05)" text-anchor="end">1</text>
<text transform="translate(181.3 367) scale(1 1.05)" text-anchor="middle">0</text>
<text transform="translate(397.3 367) scale(1 1.05)" text-anchor="middle">500</text>
<text transform="translate(613.3 367) scale(1 1.05)" text-anchor="middle">1000</text>
<text transform="translate(829.3 367) scale(1 1.05)" text-anchor="middle">1500</text>
<text transform="translate(1045.3 367) scale(1 1.05)" text-anchor="middle">2000</text>
<text transform="translate(1261.3 367) scale(1 1.05)" text-anchor="middle">2500</text>
</g>
<text transform="translate(722.0 57) scale(1 1.05)" text-anchor="middle" font-family="'Liberation Sans', sans-serif" font-size="14.67" font-weight="bold" fill="#111">Input signal with noise</text>
<g fill="#262626" shape-rendering="crispEdges">
<rect x="181" y="461" width="1081" height="1"/>
<rect x="181" y="747" width="1081" height="1"/>
<rect x="181" y="461" width="1" height="287"/>
<rect x="1261" y="461" width="1" height="287"/>
<rect x="397" y="738" width="1" height="10"/>
<rect x="397" y="461" width="1" height="10"/>
<rect x="613" y="738" width="1" height="10"/>
<rect x="613" y="461" width="1" height="10"/>
<rect x="829" y="738" width="1" height="10"/>
<rect x="829" y="461" width="1" height="10"/>
<rect x="1045" y="738" width="1" height="10"/>
<rect x="1045" y="461" width="1" height="10"/>
<rect x="181" y="700" width="10" height="1"/>
<rect x="1252" y="700" width="10" height="1"/>
<rect x="181" y="652" width="10" height="1"/>
<rect x="1252" y="652" width="10" height="1"/>
<rect x="181" y="604" width="10" height="1"/>
<rect x="1252" y="604" width="10" height="1"/>
<rect x="181" y="556" width="10" height="1"/>
<rect x="1252" y="556" width="10" height="1"/>
<rect x="181" y="508" width="10" height="1"/>
<rect x="1252" y="508" width="10" height="1"/>
</g>
<g fill="#262626" fill-opacity="0.8" shape-rendering="crispEdges"><rect x="397" y="737" width="1" height="1"/><rect x="397" y="471" width="1" height="1"/><rect x="613" y="737" width="1" height="1"/><rect x="613" y="471" width="1" height="1"/><rect x="829" y="737" width="1" height="1"/><rect x="829" y="471" width="1" height="1"/><rect x="1045" y="737" width="1" height="1"/><rect x="1045" y="471" width="1" height="1"/><rect x="191" y="700" width="1" height="1"/><rect x="1251" y="700" width="1" height="1"/><rect x="191" y="652" width="1" height="1"/><rect x="1251" y="652" width="1" height="1"/><rect x="191" y="604" width="1" height="1"/><rect x="1251" y="604" width="1" height="1"/><rect x="191" y="556" width="1" height="1"/><rect x="1251" y="556" width="1" height="1"/><rect x="191" y="508" width="1" height="1"/><rect x="1251" y="508" width="1" height="1"/></g>
<clipPath id="c2"><rect x="181" y="460.8" width="1081" height="287.4"/></clipPath>
<path d="M181.43,604.50 L181.86,617.29 L182.30,625.30 L182.73,605.94 L183.16,567.11 L183.59,528.29 L184.03,508.93 L184.46,516.94 L184.89,529.75 L185.32,529.77 L185.76,529.80 L186.19,529.84 L186.62,529.90 L187.05,529.98 L187.49,530.08 L187.92,530.20 L188.35,530.35 L188.78,530.53 L189.22,530.74 L189.65,531.00 L190.08,531.29 L190.51,531.63 L190.95,532.03 L191.38,532.47 L191.81,532.98 L192.24,533.55 L192.68,534.19 L193.11,534.91 L193.54,535.70 L193.97,536.57 L194.41,537.54 L194.84,538.60 L195.27,539.75 L195.70,541.01 L196.14,542.37 L196.57,543.85 L197.00,545.45 L197.43,547.16 L197.86,549.00 L198.30,550.96 L198.73,553.06 L199.16,555.28 L199.59,557.65 L200.03,560.15 L200.46,562.79 L200.89,565.57 L201.32,568.48 L201.76,571.53 L202.19,574.72 L202.62,578.04 L203.05,581.49 L203.49,585.07 L203.92,588.76 L204.35,592.56 L204.78,596.47 L205.22,600.47 L205.65,604.56 L206.08,608.71 L206.51,612.93 L206.95,617.19 L207.38,621.49 L207.81,625.79 L208.24,630.09 L208.68,634.37 L209.11,638.59 L209.54,642.76 L209.97,646.83 L210.41,650.79 L210.84,654.61 L211.27,658.26 L211.70,661.73 L212.13,664.98 L212.57,667.98 L213.00,670.72 L213.43,673.16 L213.86,675.27 L214.30,677.04 L214.73,678.44 L215.16,679.44 L215.59,680.02 L216.03,680.17 L216.46,679.86 L216.89,679.08 L217.32,677.82 L217.76,676.07 L218.19,673.82 L218.62,671.08 L219.05,667.84 L219.49,664.11 L219.92,659.91 L220.35,655.24 L220.78,650.14 L221.22,644.62 L221.65,638.73 L222.08,632.49 L222.51,625.95 L222.95,619.16 L223.38,612.17 L223.81,605.03 L224.24,597.82 L224.68,590.59 L225.11,583.41 L225.54,576.36 L225.97,569.50 L226.41,562.92 L226.84,556.70 L227.27,550.90 L227.70,545.60 L228.13,540.87 L228.57,536.79 L229.00,533.41 L229.43,530.80 L229.86,529.01 L230.30,528.07 L230.73,528.03 L231.16,528.91 L231.59,530.72 L232.03,533.47 L232.46,537.14 L232.89,541.72 L233.32,547.15 L233.76,553.40 L234.19,560.40 L234.62,568.06 L235.05,576.30 L235.49,585.02 L235.92,594.09 L236.35,603.39 L236.78,612.79 L237.22,622.14 L237.65,631.30 L238.08,640.12 L238.51,648.46 L238.95,656.16 L239.38,663.08 L239.81,669.09 L240.24,674.07 L240.68,677.91 L241.11,680.51 L241.54,681.80 L241.97,681.73 L242.41,680.27 L242.84,677.42 L243.27,673.19 L243.70,667.64 L244.13,660.85 L244.57,652.92 L245.00,643.98 L245.43,634.19 L245.86,623.73 L246.30,612.79 L246.73,601.61 L247.16,590.40 L247.59,579.40 L248.03,568.86 L248.46,559.02 L248.89,550.10 L249.32,542.33 L249.76,535.90 L250.19,530.99 L250.62,527.75 L251.05,526.28 L251.49,526.65 L251.92,528.89 L252.35,532.98 L252.78,538.86 L253.22,546.41 L253.65,555.47 L254.08,565.85 L254.51,577.29 L254.95,589.53 L255.38,602.24 L255.81,615.10 L256.24,627.76 L256.68,639.87 L257.11,651.09 L257.54,661.09 L257.97,669.55 L258.40,676.22 L258.84,680.86 L259.27,683.30 L259.70,683.43 L260.13,681.21 L260.57,676.66 L261.00,669.89 L261.43,661.05 L261.86,650.39 L262.30,638.23 L262.73,624.91 L263.16,610.85 L263.59,596.49 L264.03,582.30 L264.46,568.76 L264.89,556.33 L265.32,545.46 L265.76,536.53 L266.19,529.90 L266.62,525.82 L267.05,524.50 L267.49,526.01 L267.92,530.36 L268.35,537.42 L268.78,546.99 L269.22,558.75 L269.65,572.28 L270.08,587.12 L270.51,602.71 L270.95,618.46 L271.38,633.77 L271.81,648.02 L272.24,660.63 L272.68,671.07 L273.11,678.89 L273.54,683.72 L273.97,685.33 L274.40,683.60 L274.84,678.54 L275.27,670.32 L275.70,659.25 L276.13,645.76 L276.57,630.39 L277.00,613.81 L277.43,596.72 L277.86,579.87 L278.30,564.04 L278.73,549.95 L279.16,538.28 L279.59,529.61 L280.03,524.37 L280.46,522.87 L280.89,525.24 L281.32,531.41 L281.76,541.13 L282.19,554.00 L282.62,569.42 L283.05,586.65 L283.49,604.88 L283.92,623.18 L284.35,640.64 L284.78,656.35 L285.22,669.47 L285.65,679.28 L286.08,685.22 L286.51,686.93 L286.95,684.25 L287.38,677.28 L287.81,666.32 L288.24,651.93 L288.68,634.85 L289.11,615.99 L289.54,596.39 L289.97,577.14 L290.40,559.35 L290.84,544.04 L291.27,532.14 L291.70,524.39 L292.13,521.29 L292.57,523.10 L293.00,529.75 L293.43,540.93 L293.86,556.00 L294.30,574.11 L294.73,594.18 L295.16,614.99 L295.59,635.26 L296.03,653.70 L296.46,669.12 L296.89,680.51 L297.32,687.07 L297.76,688.34 L298.19,684.15 L298.62,674.71 L299.05,660.58 L299.49,642.65 L299.92,622.07 L300.35,600.20 L300.78,578.51 L301.22,558.49 L301.65,541.54 L302.08,528.89 L302.51,521.47 L302.95,519.86 L303.38,524.25 L303.81,534.40 L304.24,549.64 L304.67,568.94 L305.11,590.93 L305.54,614.03 L305.97,636.53 L306.40,656.76 L306.84,673.16 L307.27,684.47 L307.70,689.74 L308.13,688.51 L308.57,680.81 L309.00,667.14 L309.43,648.51 L309.86,626.33 L310.30,602.32 L310.73,578.36 L311.16,556.39 L311.59,538.19 L312.03,525.30 L312.46,518.83 L312.89,519.38 L313.32,526.99 L313.76,541.10 L314.19,560.60 L314.62,583.91 L315.05,609.07 L315.49,633.97 L315.92,656.44 L316.35,674.52 L316.78,686.57 L317.22,691.47 L317.65,688.71 L318.08,678.46 L318.51,661.54 L318.95,639.40 L319.38,614.00 L319.81,587.62 L320.24,562.67 L320.67,541.45 L321.11,526.00 L321.54,517.81 L321.97,517.72 L322.40,525.84 L322.84,541.48 L323.27,563.22 L323.70,589.04 L324.13,616.47 L324.57,642.85 L325.00,665.60 L325.43,682.43 L325.86,691.60 L326.30,692.13 L326.73,683.86 L327.16,667.54 L327.59,644.75 L328.03,617.74 L328.46,589.26 L328.89,562.22 L329.32,539.46 L329.76,523.39 L330.19,515.78 L330.62,517.52 L331.05,528.52 L331.49,547.69 L331.92,573.05 L332.35,601.93 L332.78,631.22 L333.22,657.71 L333.65,678.46 L334.08,691.12 L334.51,694.20 L334.95,687.25 L335.38,670.97 L335.81,647.10 L336.24,618.28 L336.67,587.75 L337.11,559.03 L337.54,535.43 L337.97,519.77 L338.40,513.95 L338.84,518.74 L339.27,533.69 L339.70,557.11 L340.13,586.30 L340.57,617.80 L341.00,647.82 L341.43,672.71 L341.86,689.39 L342.30,695.71 L342.73,690.82 L343.16,675.20 L343.59,650.70 L344.03,620.32 L344.46,587.81 L344.89,557.28 L345.32,532.63 L345.76,517.08 L346.19,512.70 L346.62,520.18 L347.05,538.64 L347.49,565.78 L347.92,598.12 L348.35,631.43 L348.78,661.30 L349.22,683.73 L349.65,695.63 L350.08,695.31 L350.51,682.70 L350.94,659.40 L351.38,628.50 L351.81,594.17 L352.24,561.14 L352.67,533.98 L353.11,516.56 L353.54,511.38 L353.97,519.31 L354.40,539.32 L354.84,568.69 L355.27,603.29 L355.70,638.20 L356.13,668.39 L356.57,689.43 L357.00,698.18 L357.43,693.24 L357.86,675.22 L358.30,646.67 L358.73,611.74 L359.16,575.59 L359.59,543.64 L360.03,520.74 L360.46,510.43 L360.89,514.40 L361.32,532.16 L361.76,561.11 L362.19,596.86 L362.62,633.94 L363.05,666.57 L363.49,689.62 L363.92,699.36 L364.35,694.16 L364.78,674.70 L365.22,643.97 L365.65,606.80 L366.08,569.12 L366.51,537.01 L366.94,515.75 L367.38,508.89 L367.81,517.67 L368.24,540.79 L368.67,574.54 L369.11,613.39 L369.54,650.90 L369.97,680.78 L370.40,697.92 L370.84,699.31 L371.27,684.60 L371.70,656.15 L372.13,618.74 L372.57,578.74 L373.00,543.05 L373.43,517.90 L373.86,507.78 L374.30,514.58 L374.73,537.24 L375.16,571.88 L375.59,612.44 L376.03,651.74 L376.46,682.71 L376.89,699.72 L377.32,699.58 L377.76,682.17 L378.19,650.54 L378.62,610.36 L379.05,568.96 L379.49,533.98 L379.92,511.95 L380.35,507.08 L380.78,520.42 L381.22,549.61 L381.65,589.26 L382.08,631.94 L382.51,669.55 L382.94,694.86 L383.38,702.93 L383.81,692.05 L384.24,664.19 L384.67,624.64 L385.11,581.02 L385.54,541.84 L385.97,514.86 L386.40,505.49 L386.84,515.73 L387.27,543.69 L387.70,583.92 L388.13,628.42 L388.57,668.25 L389.00,695.30 L389.43,703.99 L389.86,692.40 L390.30,662.74 L390.73,621.00 L391.16,575.70 L391.59,536.23 L392.03,510.84 L392.46,504.96 L392.89,519.96 L393.32,552.84 L393.76,596.77 L394.19,642.49 L394.62,680.26 L395.05,701.92 L395.49,702.71 L395.92,682.29 L396.35,644.94 L396.78,598.66 L397.22,553.50 L397.65,519.38 L398.08,503.89 L398.51,510.59 L398.94,538.16 L399.38,580.59 L399.81,628.52 L400.24,671.21 L400.67,699.00 L401.11,705.50 L401.54,689.08 L401.97,653.32 L402.40,606.27 L402.84,558.66 L403.27,521.47 L403.70,503.38 L404.13,508.73 L404.57,536.45 L405.00,580.19 L405.43,629.78 L405.86,673.57 L406.30,701.14 L406.73,705.82 L407.16,686.34 L407.59,647.20 L408.03,597.67 L408.46,549.62 L408.89,514.72 L409.32,501.53 L409.76,513.43 L410.19,547.67 L410.62,595.98 L411.05,646.55 L411.49,686.86 L411.92,706.83 L412.35,701.33 L412.78,671.58 L413.21,624.87 L413.65,572.89 L414.08,528.74 L414.51,503.71 L414.94,504.29 L415.38,530.52 L415.81,575.82 L416.24,628.65 L416.67,675.40 L417.11,703.88 L417.54,706.56 L417.97,682.57 L418.40,638.02 L418.84,584.52 L419.27,536.13 L419.70,505.72 L420.13,501.52 L420.57,524.80 L421.00,569.51 L421.43,623.76 L421.86,672.97 L422.30,703.79 L422.73,707.71 L423.16,683.50 L423.59,637.60 L424.03,582.47 L424.46,533.25 L424.89,503.59 L425.32,501.85 L425.76,528.68 L426.19,576.78 L426.62,632.78 L427.05,680.99 L427.49,707.75 L427.92,705.33 L428.35,674.25 L428.78,623.19 L429.21,566.63 L429.65,520.79 L430.08,498.93 L430.51,507.54 L430.94,544.29 L431.38,598.67 L431.81,654.90 L432.24,696.53 L432.67,711.21 L433.11,694.46 L433.54,651.04 L433.97,593.68 L434.40,539.38 L434.84,504.40 L435.27,499.35 L435.70,525.92 L436.13,576.29 L436.57,635.34 L437.00,685.18 L437.43,710.56 L437.86,703.56 L438.30,666.14 L438.73,609.64 L439.16,551.40 L439.59,509.47 L440.03,496.96 L440.46,517.97 L440.89,566.12 L441.32,626.44 L441.76,680.01 L442.19,709.86 L442.62,706.39 L443.05,670.51 L443.49,613.47 L443.92,553.42 L444.35,509.60 L444.78,496.25 L445.21,517.84 L445.65,567.57 L446.08,629.45 L446.51,683.34 L446.94,711.57 L447.38,704.72 L447.81,664.85 L448.24,604.94 L448.67,544.73 L449.11,504.24 L449.54,497.08 L449.97,525.84 L450.40,581.07 L450.84,644.32 L451.27,694.29 L451.70,713.96 L452.13,696.50 L452.57,647.64 L453.00,583.91 L453.43,527.08 L453.86,496.75 L454.30,503.52 L454.73,545.25 L455.16,607.66 L455.59,669.11 L456.03,708.15 L456.46,710.97 L456.89,676.38 L457.32,616.37 L457.76,552.03 L458.19,506.13 L458.62,495.12 L459.05,523.10 L459.48,580.28 L459.92,646.28 L460.35,697.40 L460.78,715.10 L461.21,692.78 L461.65,638.35 L462.08,571.46 L462.51,516.49 L462.94,493.64 L463.38,511.50 L463.81,563.68 L464.24,631.07 L464.67,688.76 L465.11,715.25 L465.54,700.48 L465.97,649.77 L466.40,581.96 L466.84,522.48 L467.27,493.82 L467.70,507.00 L468.13,557.21 L468.57,625.54 L469.00,685.99 L469.43,715.36 L469.86,702.22 L470.30,651.41 L470.73,582.37 L471.16,521.75 L471.59,493.15 L472.03,507.87 L472.46,560.38 L472.89,630.29 L473.32,690.22 L473.76,716.49 L474.19,698.55 L474.62,643.30 L475.05,572.51 L475.48,514.33 L475.92,492.06 L476.35,514.82 L476.78,573.68 L477.21,645.09 L477.65,700.23 L478.08,716.68 L478.51,687.56 L478.94,624.51 L479.38,553.16 L479.81,502.71 L480.24,494.00 L480.67,530.83 L481.11,598.19 L481.54,668.30 L481.97,712.03 L482.40,711.02 L482.84,665.49 L483.27,594.30 L483.70,527.26 L484.13,492.65 L484.57,505.23 L485.00,559.91 L485.43,633.64 L485.86,695.10 L486.30,717.96 L486.73,692.26 L487.16,628.81 L487.59,554.77 L488.03,502.06 L488.46,493.62 L488.89,533.32 L489.32,604.08 L489.76,675.16 L490.19,715.44 L490.62,707.09 L491.05,653.58 L491.48,578.30 L491.92,514.49 L492.35,490.49 L492.78,517.17 L493.21,582.85 L493.65,658.33 L494.08,709.81 L494.51,714.03 L494.94,668.88 L495.38,594.55 L495.81,524.60 L496.24,490.83 L496.67,508.79 L497.11,570.49 L497.54,647.88 L497.97,705.49 L498.40,716.70 L498.84,676.14 L499.27,602.36 L499.70,529.45 L500.13,491.33 L500.57,505.93 L501.00,566.65 L501.43,645.21 L501.86,704.77 L502.30,717.18 L502.73,676.37 L503.16,601.45 L503.59,527.85 L504.03,490.63 L504.46,507.70 L504.89,571.13 L505.32,650.66 L505.75,708.12 L506.19,715.70 L506.62,669.53 L507.05,591.77 L507.48,520.07 L507.92,489.39 L508.35,514.88 L508.78,584.29 L509.21,663.72 L509.65,714.14 L510.08,710.54 L510.51,654.50 L510.94,573.58 L511.38,507.91 L511.81,490.27 L512.24,529.67 L512.67,606.60 L513.11,682.59 L513.54,719.39 L513.97,698.28 L514.40,629.71 L514.84,548.26 L515.27,495.27 L515.70,497.87 L516.13,554.93 L516.57,637.46 L517.00,703.18 L517.43,718.22 L517.86,674.62 L518.30,594.70 L518.73,519.75 L519.16,488.74 L519.59,517.98 L520.03,592.44 L520.46,673.31 L520.89,718.19 L521.32,703.33 L521.75,636.34 L522.19,552.44 L522.62,496.01 L523.05,497.12 L523.48,555.40 L523.92,639.95 L524.35,705.65 L524.78,717.20 L525.21,668.19 L525.65,584.80 L526.08,511.95 L526.51,489.11 L526.94,528.85 L527.38,609.79 L527.81,687.94 L528.24,720.59 L528.67,689.69 L529.11,611.97 L529.54,530.05 L529.97,489.10 L530.40,511.92 L530.84,586.08 L531.27,670.56 L531.70,718.35 L532.13,702.64 L532.57,632.01 L533.00,545.87 L533.43,492.59 L533.86,502.30 L534.30,569.73 L534.73,656.92 L535.16,714.46 L535.59,709.54 L536.03,644.74 L536.46,556.88 L536.89,496.20 L537.32,497.61 L537.75,560.51 L538.19,648.84 L538.62,711.64 L539.05,712.44 L539.48,650.58 L539.92,561.85 L540.35,497.90 L540.78,496.20 L541.21,557.94 L541.65,647.09 L542.08,711.26 L542.51,712.52 L542.94,649.92 L543.38,560.35 L543.81,496.91 L544.24,497.46 L544.67,561.86 L545.11,651.81 L545.54,713.50 L545.97,709.78 L546.40,642.68 L546.84,552.50 L547.27,493.67 L547.70,501.95 L548.13,572.52 L548.57,662.61 L549.00,717.33 L549.43,703.12 L549.86,628.46 L550.30,539.03 L550.73,489.82 L551.16,511.30 L551.59,590.41 L552.02,678.31 L552.46,720.46 L552.89,690.48 L553.32,606.86 L553.75,521.70 L554.19,488.34 L554.62,527.87 L555.05,615.64 L555.48,696.44 L555.92,719.22 L556.35,669.37 L556.78,578.32 L557.21,503.86 L557.65,493.48 L558.08,554.01 L558.51,646.90 L558.94,712.65 L559.38,708.92 L559.81,637.92 L560.24,545.30 L560.67,490.92 L561.11,510.15 L561.54,590.70 L561.97,680.29 L562.40,720.48 L562.84,684.85 L563.27,596.54 L563.70,513.41 L564.13,490.18 L564.57,542.33 L565.00,635.60 L565.43,708.32 L565.86,712.18 L566.30,644.41 L566.73,550.01 L567.16,491.95 L567.59,509.20 L568.02,590.37 L568.46,681.08 L568.89,720.26 L569.32,681.32 L569.75,590.41 L570.19,509.00 L570.62,492.42 L571.05,552.11 L571.48,647.56 L571.92,713.62 L572.35,704.98 L572.78,627.38 L573.21,534.01 L573.65,489.18 L574.08,523.96 L574.51,614.49 L574.94,698.12 L575.38,716.74 L575.81,657.22 L576.24,560.90 L576.67,495.02 L577.11,505.82 L577.54,585.88 L577.97,679.07 L578.40,719.73 L578.84,679.02 L579.27,585.56 L579.70,505.51 L580.13,495.76 L580.57,563.44 L581.00,660.43 L581.43,717.46 L581.86,693.59 L582.30,605.77 L582.73,517.02 L583.16,491.28 L583.59,547.30 L584.02,644.71 L584.46,712.99 L584.89,702.47 L585.32,620.64 L585.75,527.02 L586.19,490.00 L586.62,536.82 L587.05,633.30 L587.48,708.63 L587.92,707.26 L588.35,630.04 L588.78,533.93 L589.21,490.10 L589.65,531.20 L590.08,626.83 L590.51,705.83 L590.94,709.16 L591.38,634.16 L591.81,536.92 L592.24,490.45 L592.67,529.82 L593.11,625.52 L593.54,705.34 L593.97,708.81 L594.40,633.16 L594.84,535.72 L595.27,490.66 L595.70,532.47 L596.13,629.35 L596.57,707.19 L597.00,706.22 L597.43,627.03 L597.86,530.48 L598.29,491.08 L598.73,539.40 L599.16,638.16 L599.59,710.79 L600.02,700.72 L600.46,615.67 L600.89,521.90 L601.32,492.77 L601.75,551.22 L602.19,651.51 L602.62,714.80 L603.05,691.13 L603.48,599.04 L603.92,511.29 L604.35,497.45 L604.78,568.65 L605.21,668.36 L605.65,717.14 L606.08,675.93 L606.51,577.56 L606.94,500.81 L607.38,507.38 L607.81,592.12 L608.24,686.82 L608.67,714.99 L609.11,653.73 L609.54,552.56 L609.97,493.62 L610.40,524.94 L610.84,621.13 L611.27,703.70 L611.70,705.06 L612.13,623.96 L612.57,526.90 L613.00,493.74 L613.43,551.92 L613.86,653.51 L614.29,714.51 L614.73,684.27 L615.16,587.78 L615.59,505.24 L616.02,505.48 L616.46,588.43 L616.89,684.78 L617.32,713.80 L617.75,651.01 L618.19,549.12 L618.62,493.95 L619.05,532.15 L619.48,631.54 L619.92,707.97 L620.35,696.51 L620.78,606.80 L621.21,515.17 L621.65,499.85 L622.08,574.02 L622.51,674.27 L622.94,714.59 L623.38,660.22 L623.81,557.89 L624.24,495.84 L624.67,527.75 L625.11,626.11 L625.54,705.67 L625.97,697.25 L626.40,608.09 L626.84,515.85 L627.27,501.12 L627.70,576.89 L628.13,676.82 L628.57,713.16 L629.00,653.86 L629.43,551.08 L629.86,495.55 L630.29,536.44 L630.73,637.61 L631.16,709.32 L631.59,687.76 L632.02,592.04 L632.46,507.51 L632.89,509.75 L633.32,596.85 L633.75,690.75 L634.19,707.06 L634.62,631.02 L635.05,531.12 L635.48,497.59 L635.92,560.84 L636.35,663.62 L636.78,712.63 L637.21,663.23 L637.65,560.35 L638.08,497.86 L638.51,532.94 L638.94,633.55 L639.38,707.41 L639.81,686.61 L640.24,590.23 L640.67,507.09 L641.11,514.03 L641.54,604.70 L641.97,695.10 L642.40,701.27 L642.84,617.42 L643.27,521.60 L643.70,503.26 L644.13,579.61 L644.56,679.19 L645.00,708.60 L645.43,640.14 L645.86,538.19 L646.29,498.88 L646.73,559.37 L647.16,662.51 L647.59,710.56 L648.02,657.86 L648.46,554.47 L648.89,498.85 L649.32,544.10 L649.75,647.03 L650.19,709.13 L650.62,670.81 L651.05,568.84 L651.48,501.29 L651.92,533.30 L652.35,634.01 L652.78,706.08 L653.21,679.66 L653.65,580.35 L654.08,504.63 L654.51,526.22 L654.94,624.12 L655.38,702.74 L655.81,685.15 L656.24,588.54 L656.67,507.72 L657.11,522.15 L657.54,617.66 L657.97,700.07 L658.40,687.95 L658.84,593.25 L659.27,509.83 L659.70,520.51 L660.13,614.72 L660.56,698.62 L661.00,688.50 L661.43,594.44 L661.86,510.58 L662.29,521.00 L662.73,615.27 L663.16,698.58 L663.59,686.98 L664.02,592.16 L664.46,509.95 L664.89,523.58 L665.32,619.26 L665.75,699.81 L666.19,683.28 L666.62,586.50 L667.05,508.23 L667.48,528.49 L667.92,626.55 L668.35,701.85 L668.78,677.04 L669.21,577.63 L669.65,506.06 L670.08,536.20 L670.51,636.90 L670.94,703.90 L671.38,667.71 L671.81,565.92 L672.24,504.42 L672.67,547.30 L673.11,649.81 L673.54,704.79 L673.97,654.68 L674.40,552.04 L674.84,504.65 L675.27,562.38 L675.70,664.39 L676.13,703.03 L676.56,637.47 L677.00,537.12 L677.43,508.37 L677.86,581.74 L678.29,679.19 L678.73,696.92 L679.16,616.01 L679.59,522.95 L680.02,517.32 L680.46,605.14 L680.89,692.12 L681.32,684.74 L681.75,590.97 L682.19,511.96 L682.62,533.05 L683.05,631.40 L683.48,700.43 L683.92,665.24 L684.35,564.10 L684.78,507.13 L685.21,556.41 L685.65,658.11 L686.08,700.99 L686.51,638.12 L686.94,538.49 L687.38,511.56 L687.81,586.94 L688.24,681.52 L688.67,690.92 L689.11,604.79 L689.54,518.50 L689.97,527.73 L690.40,622.17 L690.83,696.78 L691.27,668.47 L691.70,568.87 L692.13,509.27 L692.56,556.33 L693.00,657.26 L693.43,698.79 L693.86,634.27 L694.29,536.38 L694.73,515.48 L695.16,595.10 L695.59,685.19 L696.02,683.73 L696.46,592.43 L696.89,515.04 L697.32,539.55 L697.75,637.99 L698.19,698.01 L698.62,651.08 L699.05,550.96 L699.48,512.40 L699.92,579.61 L700.35,675.27 L700.78,689.27 L701.21,605.54 L701.65,520.80 L702.08,533.00 L702.51,627.95 L702.94,695.50 L703.38,657.23 L703.81,557.74 L704.24,512.93 L704.67,575.01 L705.11,671.38 L705.54,689.31 L705.97,607.85 L706.40,522.66 L706.83,533.80 L707.27,628.09 L707.70,694.36 L708.13,654.45 L708.56,555.62 L709.00,514.87 L709.43,580.43 L709.86,674.40 L710.29,685.06 L710.73,599.82 L711.16,520.37 L711.59,541.53 L712.02,637.90 L712.46,694.05 L712.89,642.71 L713.32,545.63 L713.75,519.57 L714.19,595.82 L714.62,682.34 L715.05,674.66 L715.48,582.18 L715.92,516.96 L716.35,558.06 L716.78,655.44 L717.21,690.62 L717.65,620.85 L718.08,531.32 L718.51,531.40 L718.94,620.86 L719.38,690.05 L719.81,654.14 L720.24,557.37 L720.67,518.82 L721.11,585.89 L721.54,675.72 L721.97,677.35 L722.40,588.88 L722.83,520.00 L723.27,556.11 L723.70,652.21 L724.13,688.71 L724.56,620.23 L725.00,532.33 L725.43,534.81 L725.86,624.43 L726.29,688.84 L726.73,647.29 L727.16,552.13 L727.59,523.10 L728.02,596.66 L728.46,679.89 L728.89,667.67 L729.32,575.61 L729.75,520.40 L730.19,571.99 L730.62,664.70 L731.05,680.59 L731.48,599.55 L731.92,525.07 L732.35,552.23 L732.78,646.13 L733.21,686.45 L733.65,621.58 L734.08,534.99 L734.51,538.02 L734.94,626.61 L735.38,686.43 L735.81,640.31 L736.24,548.05 L736.67,529.14 L737.10,607.96 L737.54,682.03 L737.97,655.12 L738.40,562.43 L738.83,524.86 L739.27,591.32 L739.70,674.79 L740.13,666.02 L740.56,576.69 L741.00,524.13 L741.43,577.32 L741.86,666.08 L742.29,673.44 L742.73,589.86 L743.16,525.89 L743.59,566.09 L744.02,657.01 L744.46,678.00 L744.89,601.34 L745.32,529.14 L745.75,557.51 L746.19,648.42 L746.62,680.39 L747.05,610.83 L747.48,533.04 L747.92,551.28 L748.35,640.87 L748.78,681.28 L749.21,618.25 L749.65,536.93 L750.08,547.04 L750.51,634.72 L750.94,681.22 L751.38,623.66 L751.81,540.33 L752.24,544.43 L752.67,630.18 L753.10,680.66 L753.54,627.15 L753.97,542.92 L754.40,543.16 L754.83,627.34 L755.27,679.91 L755.70,628.83 L756.13,544.52 L756.56,543.03 L757.00,626.20 L757.43,679.13 L757.86,628.80 L758.29,545.07 L758.73,543.93 L759.16,626.76 L759.59,678.37 L760.02,627.13 L760.46,544.59 L760.89,545.85 L761.32,628.92 L761.75,677.55 L762.19,623.82 L762.62,543.24 L763.05,548.89 L763.48,632.59 L763.92,676.47 L764.35,618.87 L764.78,541.25 L765.21,553.20 L765.65,637.58 L766.08,674.82 L766.51,612.29 L766.94,538.97 L767.38,559.01 L767.81,643.65 L768.24,672.20 L768.67,604.13 L769.10,536.87 L769.54,566.54 L769.97,650.40 L770.40,668.15 L770.83,594.52 L771.27,535.54 L771.70,575.98 L772.13,657.31 L772.56,662.16 L773.00,583.76 L773.43,535.68 L773.86,587.39 L774.29,663.66 L774.73,653.78 L775.16,572.37 L775.59,538.04 L776.02,600.63 L776.46,668.59 L776.89,642.70 L777.32,561.11 L777.75,543.37 L778.19,615.27 L778.62,671.05 L779.05,628.84 L779.48,551.04 L779.92,552.30 L780.35,630.50 L780.78,669.97 L781.21,612.52 L781.65,543.47 L782.08,565.14 L782.51,645.08 L782.94,664.39 L783.37,594.57 L783.81,539.86 L784.24,581.74 L784.67,657.38 L785.10,653.67 L785.54,576.43 L785.97,541.60 L786.40,601.24 L786.83,665.49 L787.27,637.76 L787.70,560.12 L788.13,549.72 L788.56,621.99 L789.00,667.50 L789.43,617.53 L789.86,548.08 L790.29,564.49 L790.73,641.53 L791.16,661.93 L791.59,594.88 L792.02,542.82 L792.46,585.07 L792.89,656.76 L793.32,648.22 L793.75,572.82 L794.19,546.34 L794.62,609.19 L795.05,664.52 L795.48,627.29 L795.92,555.18 L796.35,559.45 L796.78,633.20 L797.21,662.23 L797.65,601.83 L798.08,545.88 L798.51,581.09 L798.94,652.44 L799.37,648.92 L799.81,576.32 L800.24,547.99 L800.67,607.92 L801.10,662.19 L801.54,626.00 L801.97,556.37 L802.40,562.52 L802.83,634.47 L803.27,658.97 L803.70,597.71 L804.13,547.48 L804.56,587.36 L805.00,654.06 L805.43,642.12 L805.86,570.77 L806.29,553.21 L806.73,617.03 L807.16,660.60 L807.59,614.82 L808.02,552.89 L808.46,573.48 L808.89,643.39 L809.32,650.84 L809.75,584.22 L810.19,550.42 L810.62,603.41 L811.05,657.84 L811.48,626.35 L811.92,559.95 L812.35,565.59 L812.78,633.86 L813.21,654.39 L813.65,594.28 L814.08,551.05 L814.51,594.54 L814.94,653.90 L815.37,632.82 L815.81,565.91 L816.24,562.12 L816.67,627.29 L817.10,654.95 L817.54,600.18 L817.97,552.80 L818.40,590.19 L818.83,650.75 L819.27,635.19 L819.70,569.41 L820.13,561.64 L820.56,624.35 L821.00,654.01 L821.43,601.95 L821.86,554.43 L822.29,589.86 L822.73,649.25 L823.16,634.23 L823.59,570.08 L824.02,563.41 L824.46,624.98 L824.89,652.12 L825.32,599.87 L825.75,555.67 L826.19,593.16 L826.62,649.32 L827.05,630.22 L827.48,568.23 L827.92,567.38 L828.35,628.75 L828.78,649.01 L829.21,594.36 L829.64,557.14 L830.08,599.90 L830.51,650.12 L830.94,623.02 L831.37,564.83 L831.81,574.12 L832.24,634.77 L832.67,643.71 L833.10,586.07 L833.54,560.14 L833.97,609.80 L834.40,650.09 L834.83,612.42 L835.27,561.51 L835.70,584.37 L836.13,641.47 L836.56,634.90 L837.00,576.31 L837.43,566.48 L837.86,621.98 L838.29,647.03 L838.73,598.73 L839.16,560.72 L839.59,598.46 L840.02,646.34 L840.46,621.58 L840.89,567.47 L841.32,577.88 L841.75,634.35 L842.19,638.60 L842.62,583.60 L843.05,565.35 L843.48,615.38 L843.92,646.06 L844.35,604.02 L844.78,563.14 L845.21,594.87 L845.64,643.19 L846.08,623.37 L846.51,570.62 L846.94,577.75 L847.37,631.82 L847.81,637.41 L848.24,585.01 L848.67,567.38 L849.10,615.38 L849.54,643.77 L849.97,602.50 L850.40,565.11 L850.83,597.81 L851.27,642.11 L851.70,619.27 L852.13,570.37 L852.56,582.59 L853.00,633.72 L853.43,632.33 L853.86,581.29 L854.29,572.15 L854.73,620.94 L855.16,639.89 L855.59,595.27 L856.02,567.59 L856.46,606.42 L856.89,641.46 L857.32,609.69 L857.75,568.85 L858.19,592.64 L858.62,637.62 L859.05,622.37 L859.48,574.94 L859.92,581.44 L860.35,629.67 L860.78,631.81 L861.21,584.35 L861.64,573.95 L862.08,619.23 L862.51,637.27 L862.94,595.41 L863.37,570.53 L863.81,607.94 L864.24,638.71 L864.67,606.58 L865.10,570.94 L865.54,597.19 L865.97,636.61 L866.40,616.65 L866.83,574.53 L867.27,588.00 L867.70,631.75 L868.13,624.80 L868.56,580.42 L869.00,580.99 L869.43,625.06 L869.86,630.61 L870.29,587.70 L870.73,576.40 L871.16,617.42 L871.59,634.00 L872.02,595.50 L872.46,574.16 L872.89,609.63 L873.32,635.16 L873.75,603.13 L874.19,574.00 L874.62,602.28 L875.05,634.43 L875.48,610.09 L875.92,575.51 L876.35,595.79 L876.78,632.24 L877.21,616.06 L877.64,578.26 L878.08,590.38 L878.51,629.04 L878.94,620.88 L879.37,581.81 L879.81,586.15 L880.24,625.24 L880.67,624.53 L881.10,585.78 L881.54,583.06 L881.97,621.18 L882.40,627.09 L882.83,589.85 L883.27,581.00 L883.70,617.15 L884.13,628.69 L884.56,593.79 L885.00,579.82 L885.43,613.35 L885.86,629.49 L886.29,597.42 L886.73,579.35 L887.16,609.92 L887.59,629.68 L888.02,600.63 L888.46,579.40 L888.89,606.93 L889.32,629.42 L889.75,603.39 L890.19,579.84 L890.62,604.42 L891.05,628.85 L891.48,605.65 L891.91,580.51 L892.35,602.39 L892.78,628.11 L893.21,607.44 L893.64,581.30 L894.08,600.83 L894.51,627.28 L894.94,608.78 L895.37,582.14 L895.81,599.71 L896.24,626.45 L896.67,609.70 L897.10,582.95 L897.54,598.98 L897.97,625.66 L898.40,610.24 L898.83,583.70 L899.27,598.63 L899.70,624.96 L900.13,610.43 L900.56,584.36 L901.00,598.60 L901.43,624.34 L901.86,610.30 L902.29,584.93 L902.73,598.87 L903.16,623.82 L903.59,609.88 L904.02,585.42 L904.46,599.43 L904.89,623.37 L905.32,609.20 L905.75,585.84 L906.19,600.24 L906.62,622.96 L907.05,608.26 L907.48,586.23 L907.91,601.29 L908.35,622.57 L908.78,607.11 L909.21,586.64 L909.64,602.55 L910.08,622.14 L910.51,605.74 L910.94,587.11 L911.37,604.01 L911.81,621.62 L912.24,604.20 L912.67,587.68 L913.10,605.62 L913.54,620.97 L913.97,602.52 L914.40,588.43 L914.83,607.35 L915.27,620.11 L915.70,600.75 L916.13,589.40 L916.56,609.15 L917.00,619.01 L917.43,598.95 L917.86,590.65 L918.29,610.94 L918.73,617.62 L919.16,597.20 L919.59,592.20 L920.02,612.63 L920.46,615.90 L920.89,595.58 L921.32,594.08 L921.75,614.14 L922.19,613.85 L922.62,594.22 L923.05,596.29 L923.48,615.34 L923.91,611.50 L924.35,593.21 L924.78,598.77 L925.21,616.13 L925.64,608.90 L926.08,592.67 L926.51,601.46 L926.94,616.40 L927.37,606.16 L927.81,592.69 L928.24,604.23 L928.67,616.07 L929.10,603.40 L929.54,593.34 L929.97,606.93 L930.40,615.09 L930.83,600.80 L931.27,594.64 L931.70,609.37 L932.13,613.47 L932.56,598.56 L933.00,596.56 L933.43,611.36 L933.86,611.28 L934.29,596.88 L934.73,598.99 L935.16,612.71 L935.59,608.67 L936.02,595.91 L936.46,601.73 L936.89,613.26 L937.32,605.85 L937.75,595.80 L938.18,604.55 L938.62,612.93 L939.05,603.11 L939.48,596.56 L939.91,607.15 L940.35,611.75 L940.78,600.73 L941.21,598.13 L941.64,609.23 L942.08,609.84 L942.51,599.01 L942.94,600.31 L943.37,610.54 L943.81,607.45 L944.24,598.15 L944.67,602.82 L945.10,610.92 L945.54,604.92 L945.97,598.26 L946.40,605.28 L946.83,610.34 L947.27,602.62 L947.70,599.28 L948.13,607.32 L948.56,608.93 L949.00,600.92 L949.43,601.00 L949.86,608.62 L950.29,606.99 L950.73,600.06 L951.16,603.06 L951.59,609.01 L952.02,604.91 L952.46,600.15 L952.89,605.05 L953.32,608.48 L953.75,603.12 L954.18,601.06 L954.62,606.56 L955.05,607.26 L955.48,601.96 L955.91,602.49 L956.35,607.31 L956.78,605.72 L957.21,601.62 L957.64,604.04 L958.08,607.25 L958.51,604.29 L958.94,602.04 L959.37,605.27 L959.81,606.55 L960.24,603.33 L960.67,602.94 L961.10,605.91 L961.54,605.54 L961.97,603.02 L962.40,603.94 L962.83,605.91 L963.27,604.65 L963.70,603.29 L964.13,604.65 L964.56,605.45 L965.00,604.19 L965.43,603.83 L965.86,604.85 L966.29,604.91 L966.73,604.22 L967.16,604.27 L967.59,604.63 L968.02,604.65 L968.46,604.55 L968.89,604.31 L969.32,604.29 L969.75,604.85 L970.18,604.80 L970.62,603.92 L971.05,604.23 L971.48,605.35 L971.91,604.59 L972.35,603.41 L972.78,604.72 L973.21,605.74 L973.64,603.84 L974.08,603.26 L974.51,605.66 L974.94,605.54 L975.37,602.84 L975.81,603.88 L976.24,606.56 L976.67,604.50 L977.10,602.23 L977.54,605.27 L977.97,606.72 L978.40,602.90 L978.83,602.64 L979.27,606.87 L979.70,605.68 L980.13,601.54 L980.56,604.27 L981.00,607.75 L981.43,603.60 L981.86,601.37 L982.29,606.58 L982.73,607.07 L983.16,601.37 L983.59,602.92 L984.02,608.38 L984.45,604.75 L984.89,600.33 L985.32,605.78 L985.75,608.40 L986.18,601.70 L986.62,601.47 L987.05,608.56 L987.48,606.12 L987.91,599.65 L988.35,604.67 L988.78,609.49 L989.21,602.40 L989.64,600.13 L990.08,608.38 L990.51,607.52 L990.94,599.30 L991.37,603.43 L991.81,610.31 L992.24,603.30 L992.67,598.98 L993.10,607.96 L993.54,608.80 L993.97,599.19 L994.40,602.23 L994.83,610.90 L995.27,604.21 L995.70,598.03 L996.13,607.48 L996.56,609.92 L997.00,599.18 L997.43,601.17 L997.86,611.37 L998.29,605.02 L998.73,597.23 L999.16,607.07 L999.59,610.85 L1000.02,599.14 L1000.45,600.32 L1000.89,611.81 L1001.32,605.60 L1001.75,596.54 L1002.18,606.87 L1002.62,611.59 L1003.05,598.94 L1003.48,599.73 L1003.91,612.31 L1004.35,605.87 L1004.78,595.91 L1005.21,606.98 L1005.64,612.14 L1006.08,598.49 L1006.51,599.46 L1006.94,612.94 L1007.37,605.75 L1007.81,595.32 L1008.24,607.49 L1008.67,612.45 L1009.10,597.73 L1009.54,599.58 L1009.97,613.71 L1010.40,605.14 L1010.83,594.83 L1011.27,608.46 L1011.70,612.44 L1012.13,596.66 L1012.56,600.21 L1013.00,614.55 L1013.43,603.97 L1013.86,594.55 L1014.29,609.91 L1014.73,611.94 L1015.16,595.34 L1015.59,601.48 L1016.02,615.30 L1016.45,602.18 L1016.89,594.70 L1017.32,611.77 L1017.75,610.77 L1018.18,593.95 L1018.62,603.50 L1019.05,615.70 L1019.48,599.79 L1019.91,595.56 L1020.35,613.88 L1020.78,608.71 L1021.21,592.82 L1021.64,606.31 L1022.08,615.38 L1022.51,596.96 L1022.94,597.44 L1023.37,615.85 L1023.81,605.63 L1024.24,592.41 L1024.67,609.79 L1025.10,613.90 L1025.54,594.10 L1025.97,600.59 L1026.40,617.13 L1026.83,601.61 L1027.27,593.30 L1027.70,613.53 L1028.13,610.88 L1028.56,591.87 L1029.00,605.00 L1029.43,616.99 L1029.86,597.07 L1030.29,596.02 L1030.72,616.74 L1031.16,606.22 L1031.59,591.17 L1032.02,610.27 L1032.45,614.69 L1032.89,592.89 L1033.32,600.81 L1033.75,618.33 L1034.18,600.31 L1034.62,592.95 L1035.05,615.38 L1035.48,609.87 L1035.91,590.41 L1036.35,607.27 L1036.78,617.10 L1037.21,594.34 L1037.64,597.75 L1038.08,618.72 L1038.51,602.92 L1038.94,591.10 L1039.37,614.06 L1039.81,612.32 L1040.24,590.19 L1040.67,605.18 L1041.10,618.51 L1041.54,595.37 L1041.97,595.90 L1042.40,618.92 L1042.83,604.40 L1043.27,590.03 L1043.70,613.45 L1044.13,613.59 L1044.56,589.89 L1045.00,604.36 L1045.43,619.30 L1045.86,595.46 L1046.29,595.22" fill="none" stroke="#1171be" stroke-width="1.001" stroke-linejoin="round" clip-path="url(#c2)"/>
<g font-family="'Liberation Sans', sans-serif" font-size="13.33" fill="#262626">
<text transform="translate(175.4 753) scale(1 1.05)" text-anchor="end">-1.5</text>
<text transform="translate(175.4 705) scale(1 1.05)" text-anchor="end">-1</text>
<text transform="translate(175.4 657) scale(1 1.05)" text-anchor="end">-0.5</text>
<text transform="translate(175.4 609) scale(1 1.05)" text-anchor="end">0</text>
<text transform="translate(175.4 562) scale(1 1.05)" text-anchor="end">0.5</text>
<text transform="translate(175.4 514) scale(1 1.05)" text-anchor="end">1</text>
<text transform="translate(175.4 466) scale(1 1.05)" text-anchor="end">1.5</text>
<text transform="translate(181.3 765) scale(1 1.05)" text-anchor="middle">0</text>
<text transform="translate(397.3 765) scale(1 1.05)" text-anchor="middle">500</text>
<text transform="translate(613.3 765) scale(1 1.05)" text-anchor="middle">1000</text>
<text transform="translate(829.3 765) scale(1 1.05)" text-anchor="middle">1500</text>
<text transform="translate(1045.3 765) scale(1 1.05)" text-anchor="middle">2000</text>
<text transform="translate(1261.3 765) scale(1 1.05)" text-anchor="middle">2500</text>
</g>
<text transform="translate(722.0 455) scale(1 1.05)" text-anchor="middle" font-family="'Liberation Sans', sans-serif" font-size="14.67" font-weight="bold" fill="#111">Filtered output signal</text>
<g fill="#fff" shape-rendering="crispEdges"><rect x="169" y="354" width="2" height="1"/><rect x="173" y="354" width="2" height="1"/><rect x="169" y="67" width="2" height="1"/><rect x="173" y="67" width="2" height="1"/><rect x="599" y="366" width="2" height="1"/><rect x="603" y="366" width="3" height="1"/><rect x="815" y="366" width="2" height="1"/><rect x="819" y="366" width="3" height="1"/><rect x="157" y="752" width="3" height="1"/><rect x="162" y="752" width="2" height="1"/><rect x="169" y="704" width="2" height="1"/><rect x="173" y="704" width="2" height="1"/><rect x="169" y="513" width="2" height="1"/><rect x="173" y="513" width="2" height="1"/><rect x="158" y="465" width="2" height="1"/><rect x="162" y="465" width="2" height="1"/><rect x="599" y="764" width="2" height="1"/><rect x="603" y="764" width="3" height="1"/><rect x="815" y="764" width="2" height="1"/><rect x="819" y="764" width="3" height="1"/></g>
</svg>
</body></html>
